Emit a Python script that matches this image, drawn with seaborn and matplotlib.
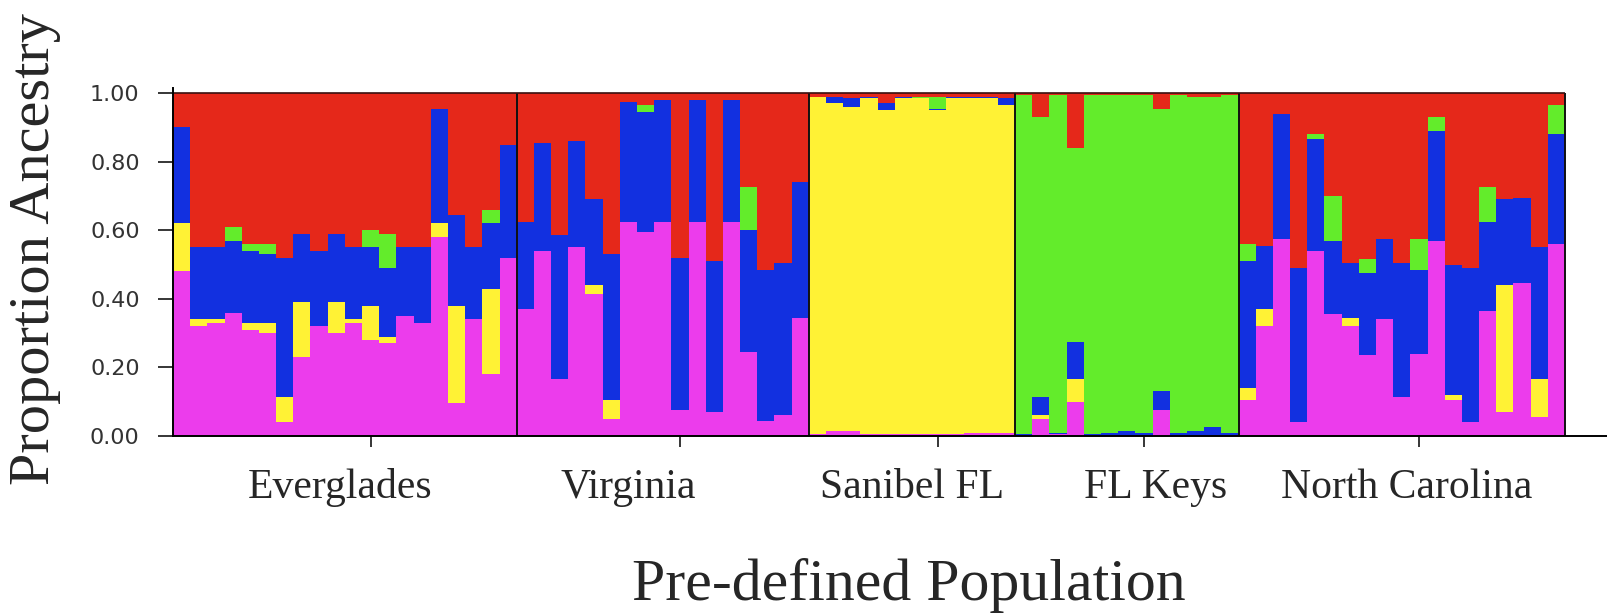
import numpy as np
import pandas as pd
import seaborn as sns
import matplotlib.pyplot as plt

# populations, in the order they appear along the x axis
populations = ['Everglades', 'Virginia', 'Sanibel FL', 'FL Keys', 'North Carolina']
pop_sizes = [20, 17, 12, 13, 19]
label_pos = [9.2, 26.0, 42.5, 56.7, 71.3]
tick_pos = [11.0, 29.0, 44.0, 56.0, 72.0]

# ancestry proportions per individual (Everglades | Virginia | Sanibel | Keys | NC)
pink = [0.48, 0.32, 0.33, 0.36, 0.31, 0.30, 0.04, 0.23, 0.32, 0.30,
        0.33, 0.28, 0.27, 0.35, 0.33, 0.58, 0.095, 0.34, 0.18, 0.52,
        0.37, 0.54, 0.165, 0.55, 0.415, 0.05, 0.625, 0.595, 0.625, 0.075,
        0.625, 0.07, 0.625, 0.245, 0.045, 0.06, 0.345,
        0.005, 0.015, 0.015, 0.005, 0.005, 0.005, 0.005, 0.005, 0.005, 0.01, 0.01, 0.01,
        0.0, 0.05, 0.005, 0.10, 0.0, 0.0, 0.0, 0.0, 0.075, 0.0, 0.0, 0.0, 0.0,
        0.105, 0.32, 0.575, 0.04, 0.54, 0.355, 0.32, 0.235, 0.34, 0.115,
        0.24, 0.57, 0.105, 0.04, 0.365, 0.07, 0.445, 0.055, 0.56]
yellow = [0.14, 0.02, 0.01, 0.0, 0.02, 0.03, 0.075, 0.16, 0.0, 0.09,
          0.01, 0.10, 0.02, 0.0, 0.0, 0.04, 0.285, 0.0, 0.25, 0.0,
          0, 0, 0, 0, 0.025, 0.055, 0, 0, 0, 0, 0, 0, 0, 0, 0, 0, 0,
          0.985, 0.955, 0.945, 0.98, 0.945, 0.98, 0.98, 0.945, 0.98, 0.975, 0.975, 0.955,
          0, 0.01, 0, 0.065, 0, 0, 0, 0, 0, 0, 0, 0, 0,
          0.035, 0.05, 0, 0, 0, 0, 0.025, 0, 0, 0,
          0, 0, 0.015, 0, 0, 0.37, 0, 0.11, 0]
blue = [0.28, 0.21, 0.21, 0.21, 0.21, 0.20, 0.405, 0.20, 0.22, 0.20,
        0.21, 0.17, 0.20, 0.20, 0.22, 0.335, 0.265, 0.21, 0.19, 0.33,
        0.255, 0.315, 0.42, 0.31, 0.25, 0.425, 0.35, 0.35, 0.355, 0.445,
        0.355, 0.44, 0.355, 0.355, 0.44, 0.445, 0.395,
        0.0, 0.02, 0.025, 0.005, 0.02, 0.005, 0.0, 0.005, 0.005, 0.005, 0.005, 0.02,
        0.005, 0.055, 0.005, 0.11, 0.005, 0.01, 0.015, 0.01, 0.055, 0.01, 0.015, 0.025, 0.01,
        0.37, 0.185, 0.365, 0.45, 0.325, 0.215, 0.16, 0.24, 0.235, 0.39,
        0.245, 0.32, 0.38, 0.45, 0.26, 0.25, 0.25, 0.385, 0.32]
green = [0, 0, 0, 0.04, 0.02, 0.03, 0, 0, 0, 0,
         0, 0.05, 0.10, 0, 0, 0, 0, 0, 0.04, 0,
         0, 0, 0, 0, 0, 0, 0, 0.02, 0, 0, 0, 0, 0, 0.125, 0, 0, 0,
         0, 0, 0, 0, 0, 0, 0.005, 0.035, 0, 0, 0, 0,
         0.99, 0.815, 0.985, 0.565, 0.99, 0.985, 0.98, 0.985, 0.825, 0.985, 0.975, 0.965, 0.985,
         0.05, 0, 0, 0, 0.015, 0.13, 0, 0.04, 0, 0,
         0.09, 0.04, 0, 0, 0.10, 0, 0, 0, 0.085]
red = [0.10, 0.45, 0.45, 0.39, 0.44, 0.44, 0.48, 0.41, 0.46, 0.41,
       0.45, 0.40, 0.41, 0.45, 0.45, 0.045, 0.355, 0.45, 0.34, 0.15,
       0.375, 0.145, 0.415, 0.14, 0.31, 0.47, 0.025, 0.035, 0.02, 0.48,
       0.02, 0.49, 0.02, 0.275, 0.515, 0.495, 0.26,
       0.01, 0.01, 0.015, 0.01, 0.03, 0.01, 0.01, 0.01, 0.01, 0.01, 0.01, 0.015,
       0.005, 0.07, 0.005, 0.16, 0.005, 0.005, 0.005, 0.005, 0.045, 0.005, 0.01, 0.01, 0.005,
       0.44, 0.445, 0.06, 0.51, 0.12, 0.30, 0.495, 0.485, 0.425, 0.495,
       0.425, 0.07, 0.50, 0.51, 0.275, 0.31, 0.305, 0.45, 0.035]

# seaborn stacks the last hue level at the bottom
clusters = ['red', 'green', 'blue', 'yellow', 'pink']
colours = {'red': '#e5281a', 'green': '#63ec2b', 'blue': '#1230e0',
           'yellow': '#fff235', 'pink': '#ec3cec'}
values = {'red': red, 'green': green, 'blue': blue, 'yellow': yellow, 'pink': pink}

rows = []
for c in clusters:
    for i, v in enumerate(values[c]):
        rows.append({'ind': i, 'cluster': c, 'prop': v})
df = pd.DataFrame(rows)
n_ind = sum(pop_sizes)

sns.set_style('ticks')
plt.rcParams['font.family'] = ['DejaVu Sans']

fig = plt.figure(figsize=(16.08, 6.15), dpi=100)
ax = fig.add_axes([173 / 1608, 179 / 615, 1435 / 1608, 348 / 615])

sns.histplot(data=df, x='ind', weights='prop', hue='cluster',
             hue_order=clusters, palette=colours, multiple='stack',
             discrete=True, shrink=1, alpha=1, linewidth=0,
             legend=False, ax=ax)

# population boundaries
bounds = np.cumsum([0] + pop_sizes) - 0.5
ax.vlines(bounds[1:], 0, 1, color='#111111', lw=1.4)
ax.hlines(1, -0.5, n_ind - 0.5, color='#3a1010', lw=1.2)

ax.set_xlim(-0.5, 83.0)
ax.set_ylim(0, 1.015)
yt = np.arange(0, 1.01, 0.2)
ax.set_yticks(yt)
ax.set_yticklabels([f'{v:.2f}' for v in yt])
ax.set_xticks(tick_pos)
ax.set_xticklabels([])
ax.set_xlabel('')
ax.set_ylabel('')
ax.tick_params(axis='x', length=8, width=1.3)
ax.tick_params(axis='y', length=11, width=1.3, pad=13, labelsize=16,
               labelcolor='#333333')
sns.despine(ax=ax)
for s in ['left', 'bottom']:
    ax.spines[s].set_linewidth(1.4)
    ax.spines[s].set_color('black')

for name, x in zip(populations, label_pos):
    ax.text(x, -0.181, name, ha='center', va='baseline', fontsize=30,
            family='Liberation Serif')

fig.text(909 / 1608, 2 / 615, 'Pre-defined Population', ha='center',
         va='bottom', fontsize=43, family='Liberation Serif')
fig.text(35 / 1608, 1 - 249 / 615, 'Proportion Ancestry', rotation=90,
         ha='center', va='center', fontsize=42, family='Liberation Serif')

fig.savefig('out.png', dpi=100)
